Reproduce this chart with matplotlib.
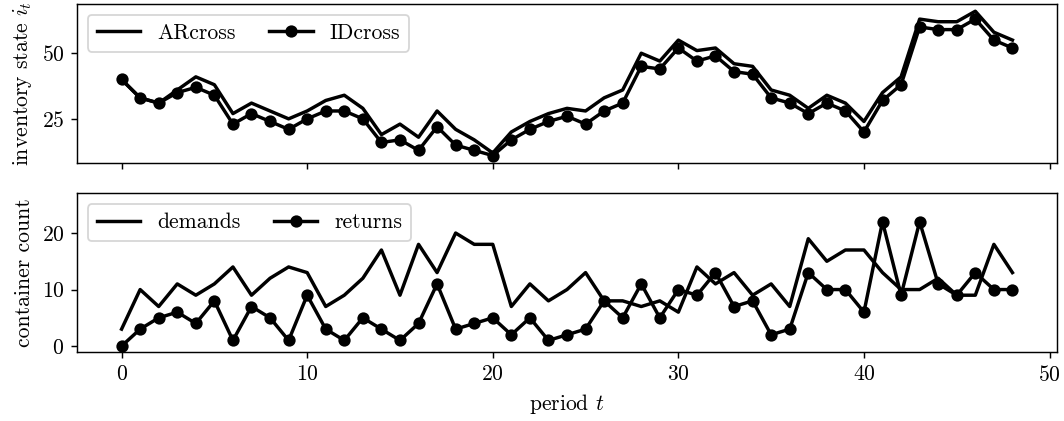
import numpy as np
import matplotlib
matplotlib.use("Agg")
import matplotlib.pyplot as plt

plt.rcParams["font.family"] = ["cmr10", "DejaVu Serif"]
plt.rcParams["mathtext.fontset"] = "cm"
plt.rcParams["axes.formatter.use_mathtext"] = True
plt.rcParams["font.size"] = 12

periods = list(range(49))

ar_cross = [40, 33, 31, 36, 41, 38, 27, 31, 28, 25, 28, 32, 34, 29, 19, 23, 18, 28, 21, 17,
            12, 20, 24, 27, 29, 28, 33, 36, 50, 47, 55, 51, 52, 46, 45, 36, 34, 29, 34, 31,
            24, 35, 41, 63, 62, 62, 66, 58, 55]
id_cross = [40, 33, 31, 35, 37, 34, 23, 27, 24, 21, 25, 28, 28, 25, 16, 17, 13, 22, 15, 13,
            11, 17, 21, 24, 26, 23, 28, 31, 45, 44, 52, 47, 49, 43, 42, 33, 31, 27, 31, 28,
            20, 32, 38, 60, 59, 59, 63, 55, 52]

demands = [3, 10, 7, 11, 9, 11, 14, 9, 12, 14, 13, 7, 9, 12, 17, 9, 18, 13, 20, 18,
           18, 7, 11, 8, 10, 13, 8, 8, 7, 8, 6, 14, 11, 13, 9, 11, 7, 19, 15, 17,
           17, 13, 10, 10, 12, 9, 9, 18, 13]
returns = [0, 3, 5, 6, 4, 8, 1, 7, 5, 1, 9, 3, 1, 5, 3, 1, 4, 11, 3, 4,
           5, 2, 5, 1, 2, 3, 8, 5, 11, 5, 10, 9, 13, 7, 8, 2, 3, 13, 10, 10,
           6, 22, 9, 22, 11, 9, 13, 10, 10]

dpi = 130
fig, (ax1, ax2) = plt.subplots(2, 1, figsize=(1064 / dpi, 421 / dpi), dpi=dpi, sharex=True)
fig.subplots_adjust(left=0.0724, right=0.9934, top=0.9905, bottom=0.1632, hspace=0.193)

lw = 1.9
ms = 5.8
ax1.plot(periods, ar_cross, color="black", lw=lw, label="ARcross")
ax1.plot(periods, id_cross, color="black", lw=lw, marker="o", ms=ms, label="IDcross")
ax1.set_ylabel("inventory state $i_t$")
ax1.set_yticks([25, 50])
ax1.legend(loc="upper left", ncol=2, fancybox=True, columnspacing=1.55)

ax2.plot(periods, demands, color="black", lw=lw, label="demands")
ax2.plot(periods, returns, color="black", lw=lw, marker="o", ms=ms, label="returns")
ax2.set_ylabel("container count")
ax2.set_xlabel("period $t$")
ax2.set_ylim(-1.1, 27)
ax2.set_yticks([0, 10, 20])
ax2.set_xticks([0, 10, 20, 30, 40, 50])
ax2.legend(loc="upper left", ncol=2, fancybox=True, columnspacing=1.55)

fig.savefig("out.png", dpi=dpi)
